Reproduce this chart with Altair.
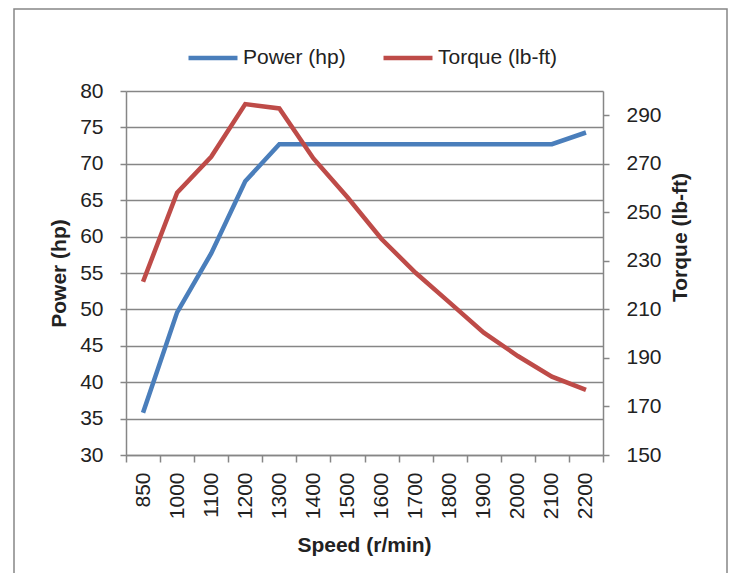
import altair as alt
import pandas as pd

# ---- data ----
speeds = ["850", "1000", "1100", "1200", "1300", "1400", "1500",
          "1600", "1700", "1800", "1900", "2000", "2100", "2200"]
power_hp = [35.8, 49.6, 57.7, 67.6, 72.7, 72.7, 72.7,
            72.7, 72.7, 72.7, 72.7, 72.7, 72.7, 74.3]
torque_lbft = [221.4, 258.1, 272.9, 294.6, 292.8, 272.2, 256.2,
               239.0, 225.1, 212.8, 200.4, 190.8, 182.3, 176.8]
power_ticks = [30, 35, 40, 45, 50, 55, 60, 65, 70, 75, 80]
torque_ticks = [150, 170, 190, 210, 230, 250, 270, 290]
series_names = ["Power (hp)", "Torque (lb-ft)"]
series_colors = ["#4A7EBB", "#BE4B48"]

df = pd.DataFrame({"speed": speeds, "power": power_hp, "torque": torque_lbft})
frame_df = pd.DataFrame({"k": [0]})

FONT = "Liberation Sans"
GRAY = "#868686"
TEXT = "#222222"
FS = 21

x_enc = alt.X(
    "speed:N",
    sort=speeds,
    bandPosition=0.5,
    scale=alt.Scale(type="band", paddingInner=0, paddingOuter=0),
    axis=alt.Axis(
        title="Speed (r/min)",
        labelAngle=270,
        tickBand="extent",
        tickSize=7,
        labelPadding=10,
        grid=False,
        titleX=238,
        titleY=90,
        titleBaseline="middle",
    ),
)

color_scale = alt.Scale(domain=series_names, range=series_colors)
legend = alt.Legend(
    title=None,
    orient="none",
    legendX=60,
    legendY=-60,
    direction="horizontal",
    symbolType="stroke",
    symbolSize=2400,
    symbolStrokeWidth=4.5,
    labelFontSize=FS,
    labelFont=FONT,
    labelColor=TEXT,
    columnPadding=28,
    labelOffset=3,
)

frame = alt.Chart(frame_df).mark_rect(
    fill="transparent", stroke=GRAY, strokeWidth=1.5, clip=False
).encode(
    x=alt.value(-112), x2=alt.value(601), y=alt.value(-82), y2=alt.value(500)
)

power = alt.Chart(df).transform_calculate(
    series=f"'{series_names[0]}'"
).mark_line(strokeWidth=4.5).encode(
    x=x_enc,
    y=alt.Y(
        "power:Q",
        scale=alt.Scale(domain=[30, 80], nice=False, zero=False),
        axis=alt.Axis(
            title="Power (hp)",
            values=power_ticks,
            grid=True,
            gridColor=GRAY,
            gridWidth=1.5,
            tickSize=6,
            labelPadding=17,
            titleAngle=270,
            titleX=-67,
            titleY=182,
            titleBaseline="middle",
            titleAlign="center",
        ),
    ),
    color=alt.Color("series:N", scale=color_scale, legend=legend),
)

torque = alt.Chart(df).transform_calculate(
    series=f"'{series_names[1]}'"
).mark_line(strokeWidth=4.5).encode(
    x=x_enc,
    y=alt.Y(
        "torque:Q",
        scale=alt.Scale(domain=[150, 300], nice=False, zero=False),
        axis=alt.Axis(
            title="Torque (lb-ft)",
            orient="right",
            values=torque_ticks,
            grid=False,
            tickSize=6,
            labelPadding=17,
            titleAngle=270,
            titleX=77,
            titleY=146,
            titleBaseline="middle",
            titleAlign="center",
        ),
    ),
    color=alt.Color("series:N", scale=color_scale, legend=legend),
)

chart = alt.layer(frame, power, torque).resolve_scale(
    y="independent"
).properties(
    width=477,
    height=364,
    padding={"left": 118, "top": 83, "right": 125, "bottom": 118},
    autosize=alt.AutoSizeParams(type="none"),
).configure_view(
    strokeWidth=0
).configure_axis(
    labelFont=FONT,
    titleFont=FONT,
    labelFontSize=FS,
    titleFontSize=FS,
    labelColor=TEXT,
    titleColor=TEXT,
    domainColor=GRAY,
    domainWidth=1.5,
    tickColor=GRAY,
    tickWidth=1.5,
)

chart.save("out.html", embed_options={"renderer": "svg", "actions": False})
